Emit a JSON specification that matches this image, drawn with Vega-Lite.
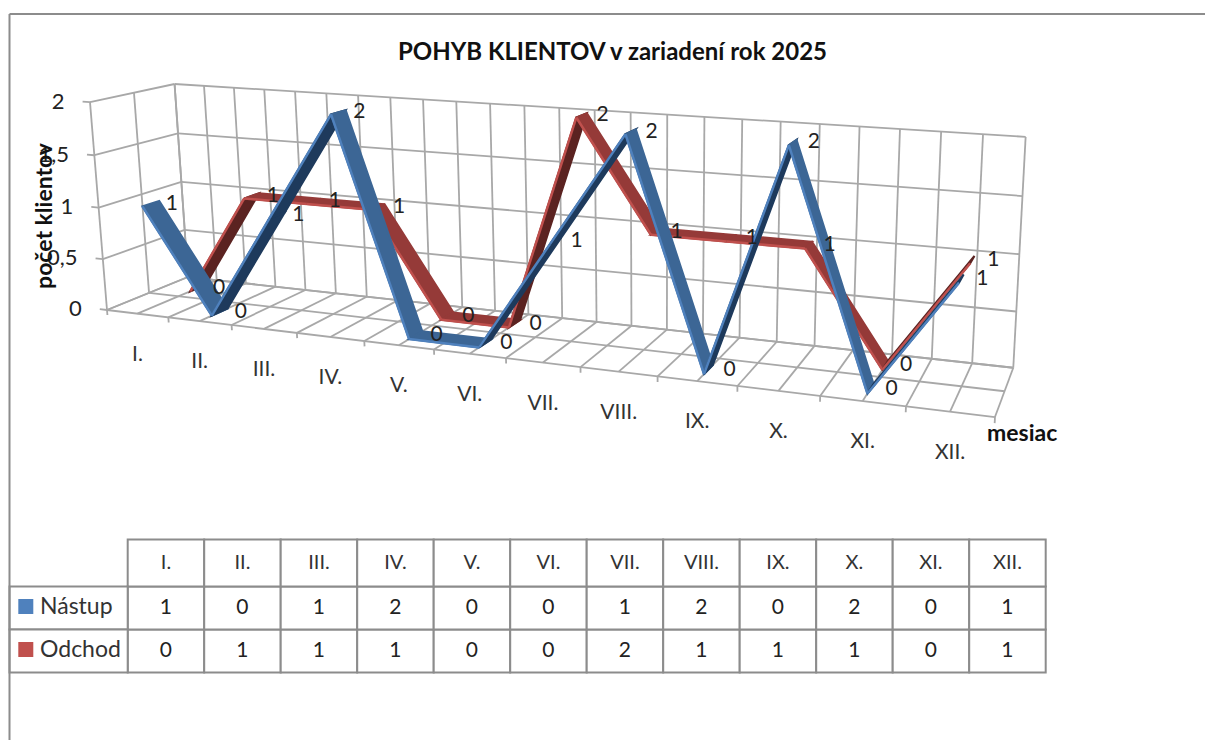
{
"$schema":"https://vega.github.io/schema/vega-lite/v6.json",
"width":1205,"height":740,"padding":0,"autosize":{"type":"none"},
"background":"white",
"view":{"stroke":null},
"title":{"text":"POHYB KLIENTOV v zariadení rok 2025","anchor":"middle","dx":10,"offset":-65,"fontSize":24,"font":"Lato","fontWeight":"bold","color":"#111111"},
"config":{"text":{"font":"Lato"},"axis":{"disable":true}},
"datasets":{
"rows":[
{"month":"I.","m":1,"series":"Odchod","value":0},{"month":"II.","m":2,"series":"Odchod","value":1},{"month":"III.","m":3,"series":"Odchod","value":1},{"month":"IV.","m":4,"series":"Odchod","value":1},{"month":"V.","m":5,"series":"Odchod","value":0},{"month":"VI.","m":6,"series":"Odchod","value":0},{"month":"VII.","m":7,"series":"Odchod","value":2},{"month":"VIII.","m":8,"series":"Odchod","value":1},{"month":"IX.","m":9,"series":"Odchod","value":1},{"month":"X.","m":10,"series":"Odchod","value":1},{"month":"XI.","m":11,"series":"Odchod","value":0},{"month":"XII.","m":12,"series":"Odchod","value":1},
{"month":"I.","m":1,"series":"Nástup","value":1},{"month":"II.","m":2,"series":"Nástup","value":0},{"month":"III.","m":3,"series":"Nástup","value":1},{"month":"IV.","m":4,"series":"Nástup","value":2},{"month":"V.","m":5,"series":"Nástup","value":0},{"month":"VI.","m":6,"series":"Nástup","value":0},{"month":"VII.","m":7,"series":"Nástup","value":1},{"month":"VIII.","m":8,"series":"Nástup","value":2},{"month":"IX.","m":9,"series":"Nástup","value":0},{"month":"X.","m":10,"series":"Nástup","value":2},{"month":"XI.","m":11,"series":"Nástup","value":0},{"month":"XII.","m":12,"series":"Nástup","value":1}
],
"grid":[
{"kind":"backV","k":[0,1,2,3,4,5,6,7,8,9,10,11,12,13,14,15,16,17,18,19,20,21,22,23,24]},
{"kind":"floorD","k":[0,1,2,3,4,5,6,7,8,9,10,11,12,13,14,15,16,17,18,19,20,21,22,23,24]},
{"kind":"backH","k":[0,1,2,3,4]},
{"kind":"leftH","k":[0,1,2,3,4]},
{"kind":"floorH","k":[0,1,2]},
{"kind":"leftV","k":[0,1,2]},
{"kind":"tickX","k":[0,1,2,3,4,5,6,7,8,9,10,11,12]},
{"kind":"tickY","k":[0,1,2,3,4]}
],
"yLabels":[{"v":0,"label":"0"},{"v":0.5,"label":"0,5"},{"v":1,"label":"1"},{"v":1.5,"label":"1,5"},{"v":2,"label":"2"}],
"legendRows":[{"series":"Nástup","r":1},{"series":"Odchod","r":2}]
},
"layer":[
{"data":{"name":"grid"},
 "transform":[
  {"flatten":["k"]},
  {"calculate":"datum.kind=='backV'||datum.kind=='floorD'?datum.k/24:datum.kind=='tickX'?datum.k/12:datum.kind=='tickY'?-0.01:0","as":"U1"},
  {"calculate":"datum.kind=='backV'||datum.kind=='floorD'?datum.k/24:datum.kind=='tickX'?datum.k/12:(datum.kind=='backH'||datum.kind=='floorH')?1:0","as":"U2"},
  {"calculate":"(datum.kind=='backV'||datum.kind=='backH')?1:(datum.kind=='floorH'||datum.kind=='leftV')?datum.k/2:0","as":"D1"},
  {"calculate":"(datum.kind=='backV'||datum.kind=='backH'||datum.kind=='floorD'||datum.kind=='leftH')?1:(datum.kind=='floorH'||datum.kind=='leftV')?datum.k/2:0","as":"D2"},
  {"calculate":"(datum.kind=='backH'||datum.kind=='leftH'||datum.kind=='tickY')?datum.k/4:datum.kind=='tickX'?-0.025:0","as":"V1"},
  {"calculate":"(datum.kind=='backH'||datum.kind=='leftH'||datum.kind=='tickY')?datum.k/4:(datum.kind=='backV'||datum.kind=='leftV')?1:0","as":"V2"},
  {"calculate":"(704.9*datum.U1+96*datum.D1-19.7*datum.V1+107)/(1-0.184*datum.U1+0.08*datum.D1-0.03*datum.V1)","as":"x1"},
  {"calculate":"(30.3*datum.U1-10.8*datum.D1-211*datum.V1+310)/(1-0.184*datum.U1+0.08*datum.D1-0.03*datum.V1)","as":"y1"},
  {"calculate":"(704.9*datum.U2+96*datum.D2-19.7*datum.V2+107)/(1-0.184*datum.U2+0.08*datum.D2-0.03*datum.V2)","as":"x2"},
  {"calculate":"(30.3*datum.U2-10.8*datum.D2-211*datum.V2+310)/(1-0.184*datum.U2+0.08*datum.D2-0.03*datum.V2)","as":"y2"}
 ],
 "mark":{"type":"rule","color":"#a8a8a8","strokeWidth":1.8},
 "encoding":{
  "x":{"field":"x1","type":"quantitative","scale":{"domain":[0,1205],"range":[0,1205],"nice":false,"zero":false},"axis":null},
  "y":{"field":"y1","type":"quantitative","scale":{"domain":[0,740],"range":[0,740],"nice":false,"zero":false},"axis":null},
  "x2":{"field":"x2"},"y2":{"field":"y2"}
 }
},
{"data":{"name":"rows"},
 "transform":[
  {"window":[{"op":"lead","field":"value","as":"nextValue"}],"sort":[{"field":"m"}],"groupby":["series"]},
  {"filter":"isValid(datum.nextValue)"},
  {"calculate":"[0,1,2,3]","as":"corner"},
  {"flatten":["corner"]},
  {"calculate":"datum.series=='Nástup'?0.25:0.75","as":"depth"},
  {"calculate":"(((datum.corner==1||datum.corner==2)?datum.m+1:datum.m)-0.5)/12","as":"U"},
  {"calculate":"((datum.corner==1||datum.corner==2)?datum.nextValue:datum.value)/2","as":"V"},
  {"calculate":"datum.depth+(datum.corner<2?-0.1:0.1)","as":"D"},
  {"calculate":"(704.9*datum.U+96*datum.D-19.7*datum.V+107)/(1-0.184*datum.U+0.08*datum.D-0.03*datum.V)","as":"sx"},
  {"calculate":"(30.3*datum.U-10.8*datum.D-211*datum.V+310)/(1-0.184*datum.U+0.08*datum.D-0.03*datum.V)","as":"sy"},
  {"calculate":"datum.series+(datum.nextValue>datum.value?' up':' flat')","as":"face"}
 ],
 "layer":[
  {"transform":[{"filter":"datum.series=='Odchod'"}],
   "mark":{"type":"line","interpolate":"linear-closed","filled":true,"strokeWidth":2},
   "encoding":{
    "x":{"field":"sx","type":"quantitative"},"y":{"field":"sy","type":"quantitative"},
    "detail":{"field":"m"},"order":{"field":"corner"},
    "fill":{"field":"face","type":"nominal","legend":null,"scale":{"domain":["Odchod up","Odchod flat","Nástup up","Nástup flat"],"range":["#5b2321","#953a38","#1e3a5c","#3c6695"]}},
    "stroke":{"field":"face","type":"nominal","legend":null,"scale":{"domain":["Odchod up","Odchod flat","Nástup up","Nástup flat"],"range":["#5b2321","#953a38","#1e3a5c","#3c6695"]}}
   }},
  {"transform":[{"filter":"datum.series=='Odchod'&&datum.corner<2"}],
   "mark":{"type":"line","color":"#c0504d","strokeWidth":2.5},
   "encoding":{"x":{"field":"sx","type":"quantitative"},"y":{"field":"sy","type":"quantitative"},"detail":{"field":"m"},"order":{"field":"corner"}}},
  {"transform":[{"filter":"datum.series=='Nástup'"}],
   "mark":{"type":"line","interpolate":"linear-closed","filled":true,"strokeWidth":2},
   "encoding":{
    "x":{"field":"sx","type":"quantitative"},"y":{"field":"sy","type":"quantitative"},
    "detail":{"field":"m"},"order":{"field":"corner"},
    "fill":{"field":"face","type":"nominal","legend":null},
    "stroke":{"field":"face","type":"nominal","legend":null}
   }},
  {"transform":[{"filter":"datum.series=='Nástup'&&datum.corner<2"}],
   "mark":{"type":"line","color":"#4f81bd","strokeWidth":2.5},
   "encoding":{"x":{"field":"sx","type":"quantitative"},"y":{"field":"sy","type":"quantitative"},"detail":{"field":"m"},"order":{"field":"corner"}}}
 ]
},
{"data":{"name":"rows"},
 "transform":[
  {"calculate":"(datum.m-0.5)/12","as":"U"},
  {"calculate":"datum.series=='Nástup'?0.25:0.75","as":"D"},
  {"calculate":"datum.value/2","as":"V"},
  {"calculate":"(704.9*datum.U+96*datum.D-19.7*datum.V+107)/(1-0.184*datum.U+0.08*datum.D-0.03*datum.V)","as":"sx"},
  {"calculate":"(30.3*datum.U-10.8*datum.D-211*datum.V+310)/(1-0.184*datum.U+0.08*datum.D-0.03*datum.V)","as":"sy"}
 ],
 "mark":{"type":"text","dx":21,"fontSize":21,"color":"#222222"},
 "encoding":{"x":{"field":"sx","type":"quantitative"},"y":{"field":"sy","type":"quantitative"},"text":{"field":"value","type":"quantitative"}}
},
{"data":{"name":"rows"},
 "transform":[
  {"filter":"datum.series=='Nástup'"},
  {"calculate":"(datum.m-0.5)/12","as":"U"},
  {"calculate":"(704.9*datum.U+107)/(1-0.184*datum.U)","as":"sx"},
  {"calculate":"(30.3*datum.U+310)/(1-0.184*datum.U)","as":"sy"}
 ],
 "mark":{"type":"text","dy":41,"fontSize":21,"color":"#333333"},
 "encoding":{"x":{"field":"sx","type":"quantitative"},"y":{"field":"sy","type":"quantitative"},"text":{"field":"month"}}
},
{"data":{"name":"yLabels"},
 "transform":[
  {"calculate":"datum.v/2","as":"V"},
  {"calculate":"(-7.05-19.7*datum.V+107)/(1.00184-0.03*datum.V)","as":"sx"},
  {"calculate":"(-0.3-211*datum.V+310)/(1.00184-0.03*datum.V)","as":"sy"}
 ],
 "mark":{"type":"text","align":"right","dx":-18,"fontSize":22,"color":"#222222"},
 "encoding":{"x":{"field":"sx","type":"quantitative"},"y":{"field":"sy","type":"quantitative"},"text":{"field":"label"}}
},
{"data":{"name":"rows"},
 "transform":[
  {"calculate":"datum.series=='Nástup'?1:2","as":"r"},
  {"calculate":"127.7+76.5*(datum.m-1)","as":"cx1"},
  {"calculate":"datum.cx1+76.5","as":"cx2"},
  {"calculate":"datum.r==1?586.5:629.5","as":"cy1"},
  {"calculate":"datum.cy1+43","as":"cy2"},
  {"calculate":"(datum.cx1+datum.cx2)/2","as":"cxm"},
  {"calculate":"(datum.cy1+datum.cy2)/2","as":"cym"}
 ],
 "layer":[
  {"mark":{"type":"rect","fill":"white","stroke":"#8c8c8c","strokeWidth":2},
   "encoding":{"x":{"field":"cx1","type":"quantitative"},"x2":{"field":"cx2"},"y":{"field":"cy1","type":"quantitative"},"y2":{"field":"cy2"}}},
  {"mark":{"type":"text","fontSize":21,"color":"#222222"},
   "encoding":{"x":{"field":"cxm","type":"quantitative"},"y":{"field":"cym","type":"quantitative"},"text":{"field":"value","type":"quantitative"}}},
  {"transform":[{"filter":"datum.r==1"}],
   "mark":{"type":"rect","fill":"white","stroke":"#8c8c8c","strokeWidth":2},
   "encoding":{"x":{"field":"cx1","type":"quantitative"},"x2":{"field":"cx2"},"y":{"datum":539.5,"type":"quantitative"},"y2":{"datum":586.5}}},
  {"transform":[{"filter":"datum.r==1"}],
   "mark":{"type":"text","fontSize":20,"color":"#333333"},
   "encoding":{"x":{"field":"cxm","type":"quantitative"},"y":{"datum":563,"type":"quantitative"},"text":{"field":"month"}}}
 ]
},
{"data":{"name":"legendRows"},
 "transform":[
  {"calculate":"datum.r==1?586.5:629.5","as":"cy1"},
  {"calculate":"datum.cy1+43","as":"cy2"},
  {"calculate":"datum.cy1+20","as":"cym"}
 ],
 "layer":[
  {"mark":{"type":"rect","fill":"white","stroke":"#8c8c8c","strokeWidth":2},
   "encoding":{"x":{"datum":9.5,"type":"quantitative"},"x2":{"datum":127.7},"y":{"field":"cy1","type":"quantitative"},"y2":{"field":"cy2"}}},
  {"mark":{"type":"square","size":225,"filled":true,"opacity":1},
   "encoding":{"x":{"datum":25.8,"type":"quantitative"},"y":{"field":"cym","type":"quantitative"},
    "color":{"field":"series","type":"nominal","legend":null,"scale":{"domain":["Nástup","Odchod"],"range":["#4f81bd","#c0504d"]}}}},
  {"mark":{"type":"text","align":"left","fontSize":23,"color":"#333333"},
   "encoding":{"x":{"datum":40,"type":"quantitative"},"y":{"field":"cym","type":"quantitative"},"text":{"field":"series"}}}
 ]
},
{"data":{"values":[{"edge":"frame"}]},
 "layer":[
  {"mark":{"type":"rule","color":"#8c8c8c","strokeWidth":2},"encoding":{"x":{"datum":9.5,"type":"quantitative"},"y":{"datum":14,"type":"quantitative"},"y2":{"datum":740}}},
  {"mark":{"type":"rule","color":"#8c8c8c","strokeWidth":2},"encoding":{"y":{"datum":14,"type":"quantitative"},"x":{"datum":9.5,"type":"quantitative"},"x2":{"datum":1205}}},
  {"mark":{"type":"text","text":"mesiac","align":"left","fontSize":23,"fontWeight":"bold","color":"#111111"},"encoding":{"x":{"datum":987,"type":"quantitative"},"y":{"datum":434,"type":"quantitative"}}},
  {"mark":{"type":"text","text":"počet klientov","angle":270,"fontSize":23,"fontWeight":"bold","color":"#111111"},"encoding":{"x":{"datum":45,"type":"quantitative"},"y":{"datum":216,"type":"quantitative"}}}
 ]
}
]
}
